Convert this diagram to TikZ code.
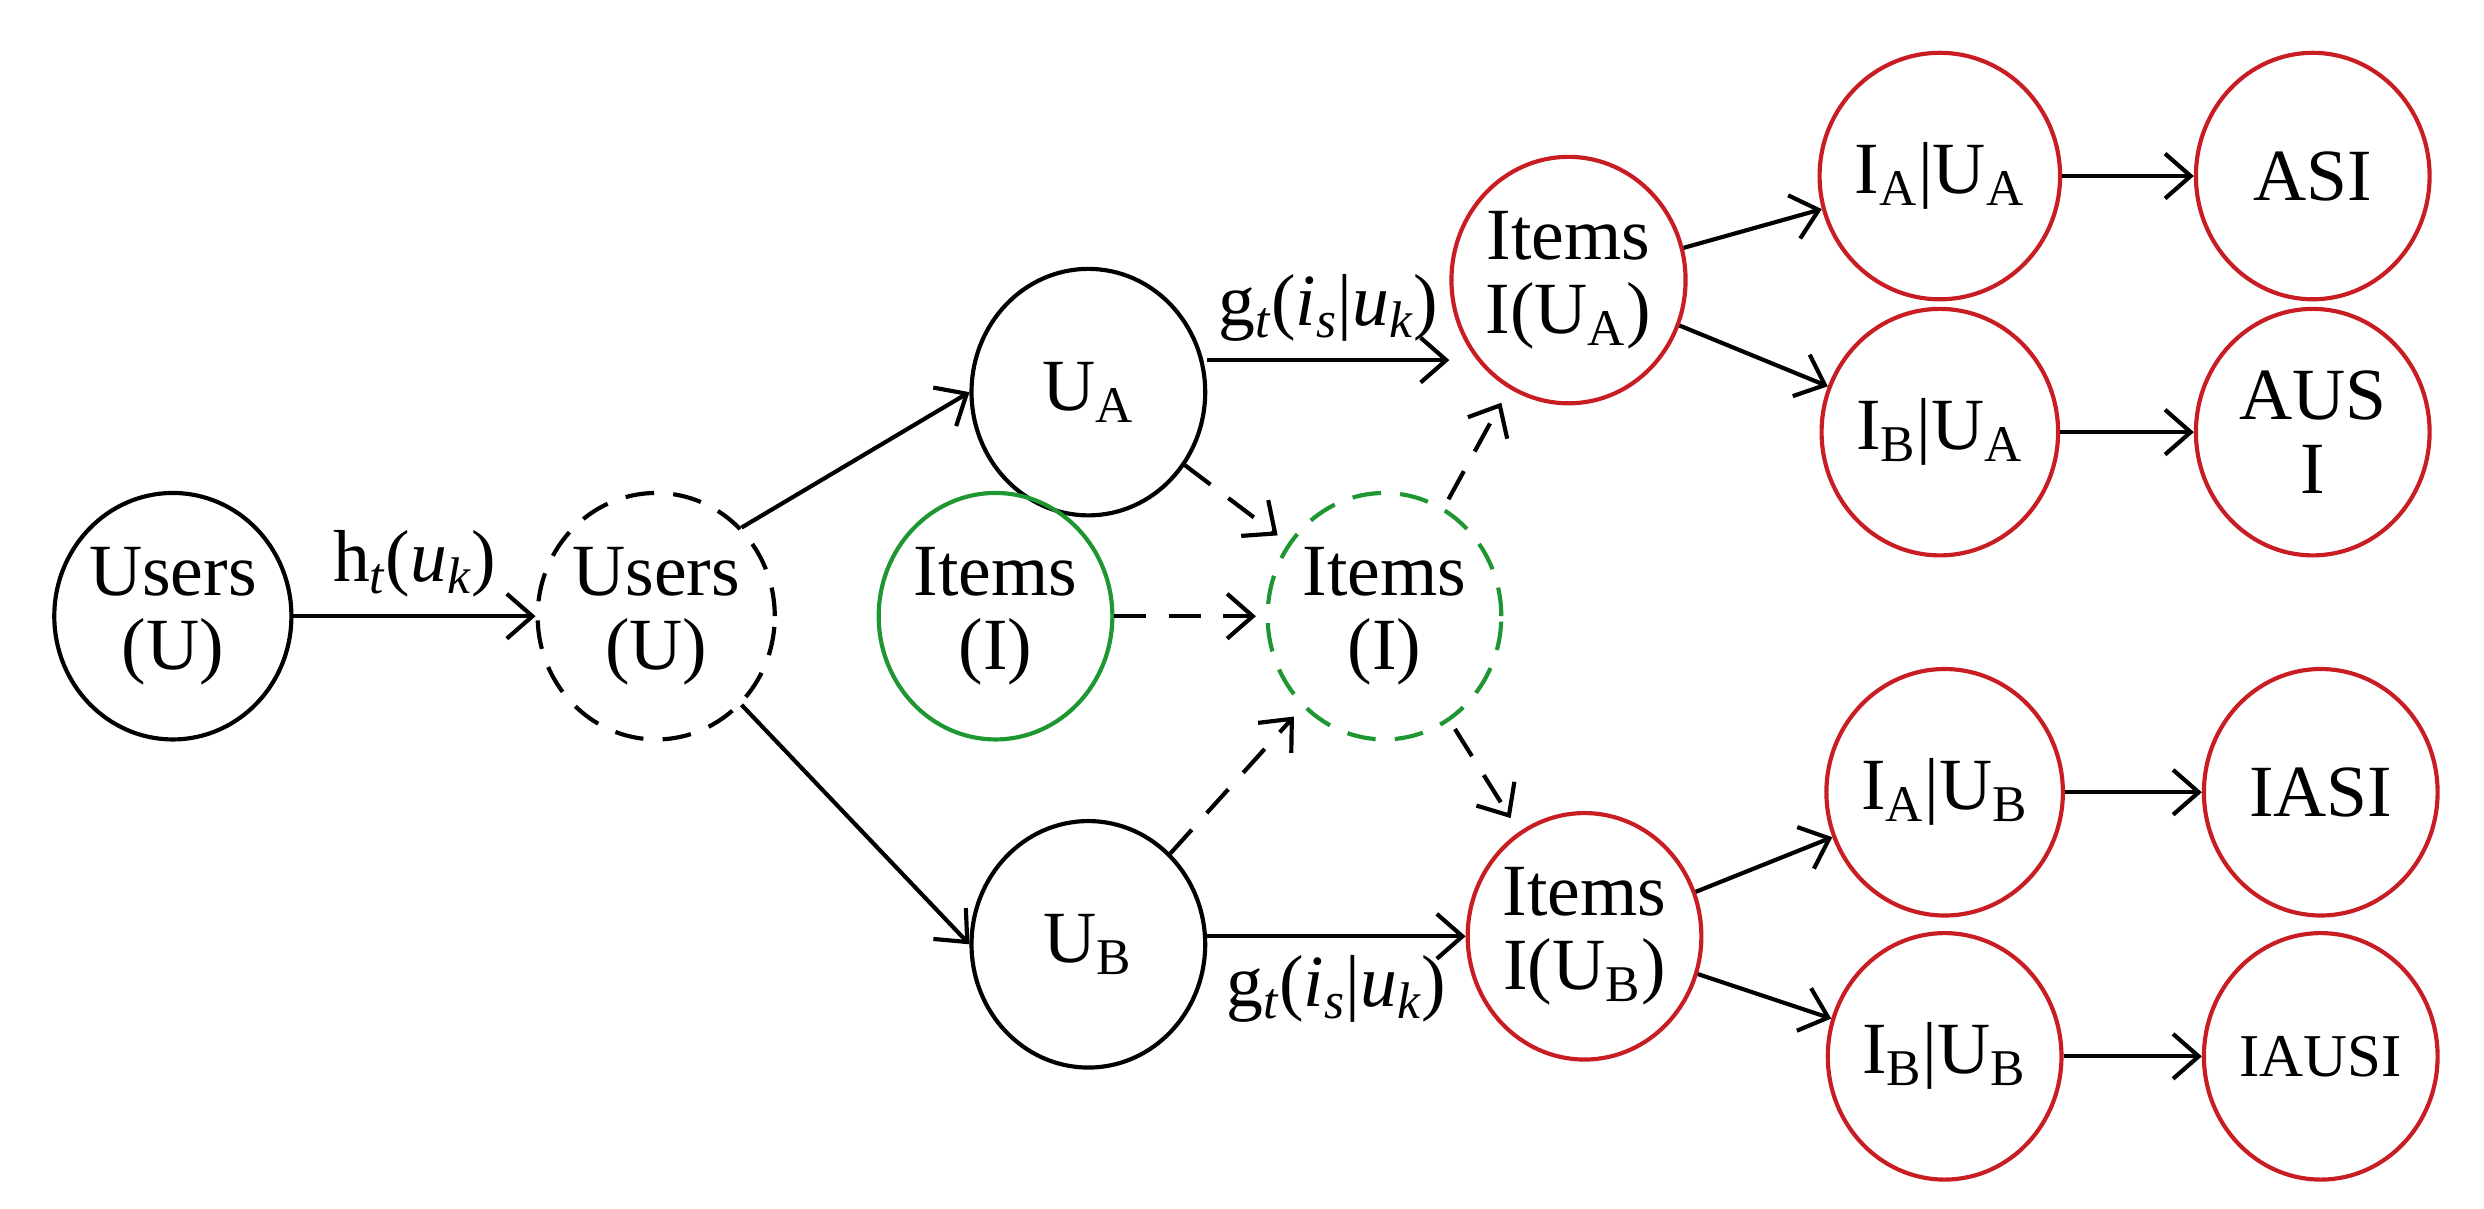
\documentclass[tikz,border=0pt]{standalone}
\usepackage{fontspec}
\setmainfont{Liberation Serif}
\usetikzlibrary{arrows.meta,shapes.geometric}
\definecolor{cred}{RGB}{200,30,35}
\definecolor{cgreen}{RGB}{30,150,50}
\begin{document}
\begin{tikzpicture}[x=0.5pt,y=-0.5pt,
  nd/.style={ellipse,draw,line width=1.3pt,minimum width=73pt,minimum height=77pt,inner sep=0pt,align=center,font=\fontsize{23}{23}\selectfont},
  rn/.style={nd,draw=cred},
  gn/.style={nd,draw=cgreen},
  ar/.style={-{Straight Barb[length=8pt,width=14pt,line width=1.3pt]},line width=1.3pt},
  da/.style={ar,dash pattern=on 10pt off 7pt},
  lb/.style={font=\fontsize{23}{23}\selectfont}]
\useasboundingbox (0,0) rectangle (1552,755);
\node[nd] (u1) at (108,385) {Users\\(U)};
\node[nd,dash pattern=on 9pt off 6pt] (u2) at (410,385) {Users\\(U)};
\node[nd] (ua) at (680,245) {U\textsubscript{A}};
\node[nd] (ub) at (680,590) {U\textsubscript{B}};
\node[gn] (ig) at (622,385) {Items\\(I)};
\node[gn,dash pattern=on 9pt off 6pt] (id) at (865,385) {Items\\(I)};
\node[rn] (iua) at (980,175) {Items\\I(U\textsubscript{A})};
\node[rn] (iub) at (990,585) {Items\\I(U\textsubscript{B})};
\node[rn] (aa) at (1212,110) {I\textsubscript{A}|U\textsubscript{A}};
\node[rn] (ba) at (1212,270) {I\textsubscript{B}|U\textsubscript{A}};
\node[rn] (asi) at (1445,110) {ASI};
\node[rn] (ausi) at (1445,270) {AUS\\I};
\node[rn] (ab) at (1215,495) {I\textsubscript{A}|U\textsubscript{B}};
\node[rn] (bb) at (1215,660) {I\textsubscript{B}|U\textsubscript{B}};
\node[rn] (iasi) at (1450,495) {IASI};
\node[rn] (iausi) at (1450,660) {\fontsize{19}{19}\selectfont IAUSI};
\draw[ar] (u1) -- (u2) node[lb,midway,above=2pt] {h\textsubscript{\itshape t}(\textit{u\textsubscript{k}})};
\draw[ar] (u2.north east) -- (ua.west);
\draw[ar] (u2.south east) -- (ub.west);
\draw[ar] (ua.east |- 0,225) -- (iua.west |- 0,225) node[lb,midway,above=2pt] {g\textsubscript{\itshape t}(\textit{i\textsubscript{s}}|\textit{u\textsubscript{k}})};
\draw[ar] (ub.east |- 0,585) -- (iub.west |- 0,585) node[lb,midway,below=2pt] {g\textsubscript{\itshape t}(\textit{i\textsubscript{s}}|\textit{u\textsubscript{k}})};
\draw[da,shorten >=4pt] (ua) -- (id);
\draw[da,shorten >=4pt] (ub) -- (id);
\draw[da,shorten >=3pt] (ig) -- (id);
\draw[da,shorten <=3pt,shorten >=5pt] (id) -- (iua);
\draw[da,shorten <=3pt,shorten >=5pt] (id) -- (iub);
\draw[ar] (iua) -- (aa);
\draw[ar] (iua) -- (ba);
\draw[ar] (iub) -- (ab);
\draw[ar] (iub) -- (bb);
\draw[ar] (aa) -- (asi);
\draw[ar] (ba) -- (ausi);
\draw[ar] (ab) -- (iasi);
\draw[ar] (bb) -- (iausi);
\end{tikzpicture}
\end{document}
